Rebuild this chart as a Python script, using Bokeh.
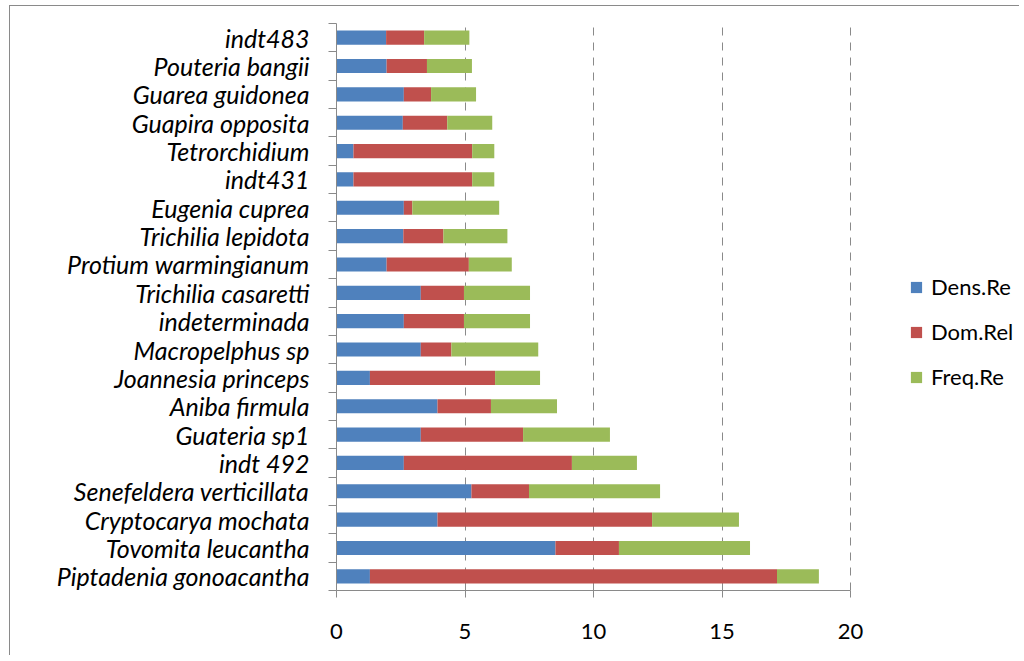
from bokeh.plotting import figure
from bokeh.models import ColumnDataSource, Range1d, FixedTicker, Legend, LegendItem
from bokeh.embed import file_html
from bokeh.resources import INLINE

# Data (bottom to top, as in the source chart's category order)
species = ["Piptadenia gonoacantha", "Tovomita leucantha", "Cryptocarya mochata",
           "Senefeldera verticillata", "indt 492", "Guateria sp1", "Aniba firmula",
           "Joannesia princeps", "Macropelphus sp", "indeterminada", "Trichilia casaretti",
           "Protium warmingianum", "Trichilia lepidota", "Eugenia cuprea", "indt431",
           "Tetrorchidium", "Guapira opposita", "Guarea guidonea", "Pouteria bangii", "indt483"]
dens_re = [1.30, 8.52, 3.93, 5.25, 2.62, 3.28, 3.93, 1.30, 3.28, 2.62, 3.28,
           1.95, 2.60, 2.62, 0.66, 0.66, 2.58, 2.62, 1.95, 1.93]
dom_rel = [15.84, 2.47, 8.35, 2.24, 6.54, 3.98, 2.08, 4.87, 1.19, 2.34, 1.68,
           3.20, 1.56, 0.33, 4.62, 4.62, 1.73, 1.06, 1.57, 1.48]
freq_re = [1.63, 5.10, 3.38, 5.10, 2.53, 3.38, 2.57, 1.75, 3.38, 2.57, 2.57,
           1.67, 2.49, 3.38, 0.86, 0.86, 1.75, 1.75, 1.75, 1.76]
series_names = ["Dens.Re", "Dom.Rel", "Freq.Re"]
colors = ["#4F81BD", "#C0504D", "#9BBB59"]
x_ticks = [0, 5, 10, 15, 20]
x_max = 20

# layout constants (pixels)
W, H = 1010, 650
LEFT, TOP, BOTTOM = 326, 17, 66
AXIS_PX = 514           # pixel length of the 0..20 axis
frame_w = W - LEFT
x_end = x_max * frame_w / AXIS_PX   # frame extends right so the legend sits inside it

ypos = list(range(len(species)))
src = ColumnDataSource(dict(y=ypos, name=species, dens=dens_re, dom=dom_rel, freq=freq_re))

p = figure(width=W, height=H, output_backend="svg", toolbar_location=None,
           x_range=Range1d(0, x_end), y_range=Range1d(-0.5, len(species) - 0.5),
           min_border_left=LEFT, min_border_right=0, min_border_top=TOP, min_border_bottom=BOTTOM)
p.outline_line_color = None
p.background_fill_color = "white"
p.border_fill_color = "white"
p.styles = {"margin-left": "9px", "margin-top": "5px",
            "border-left": "1px solid #8a8a8a", "border-top": "1px solid #8a8a8a"}

renderers = p.hbar_stack(["dens", "dom", "freq"], y="y", height=0.5, source=src,
                         color=colors, line_color=None)

# grid
p.ygrid.grid_line_color = None
p.xgrid.ticker = FixedTicker(ticks=x_ticks)
p.xgrid.grid_line_color = "#8a8a8a"
p.xgrid.grid_line_dash = "8 7"
p.xgrid.grid_line_width = 1

# x axis
xa = p.xaxis[0]
xa.bounds = (0, x_max)
xa.ticker = FixedTicker(ticks=x_ticks)
xa.axis_line_color = "#8a8a8a"
xa.major_tick_line_color = "#8a8a8a"
xa.major_tick_out = 7
xa.major_tick_in = 0
xa.minor_tick_line_color = None
xa.major_label_text_font = "Lato"
xa.major_label_text_font_size = "22px"
xa.major_label_text_color = "#000000"
xa.major_label_standoff = 26

# y axis
ya = p.yaxis[0]
ya.ticker = FixedTicker(ticks=ypos, minor_ticks=[i - 0.5 for i in range(len(species) + 1)])
ya.major_label_overrides = {i: s for i, s in enumerate(species)}
ya.axis_line_color = "#8a8a8a"
ya.major_tick_line_color = None
ya.major_tick_out = 0
ya.major_tick_in = 0
ya.minor_tick_line_color = "#8a8a8a"
ya.minor_tick_out = 8
ya.minor_tick_in = 0
ya.major_label_text_font = "Lato"
ya.major_label_text_font_style = "italic"
ya.major_label_text_font_size = "25px"
ya.major_label_text_color = "#000000"
ya.major_label_standoff = 19

legend = Legend(items=[LegendItem(label=n, renderers=[r]) for n, r in zip(series_names, renderers)],
                location=(573, 200), orientation="vertical")
legend.border_line_color = None
legend.background_fill_alpha = 0
legend.padding = 0
legend.margin = 0
legend.glyph_width = 14
legend.glyph_height = 14
legend.label_height = 20
legend.spacing = 18
legend.label_standoff = 8
legend.label_text_font = "Lato"
legend.label_text_font_size = "22px"
legend.label_text_color = "#000000"
p.add_layout(legend, "center")

open("out.html", "w").write(file_html(p, INLINE))
